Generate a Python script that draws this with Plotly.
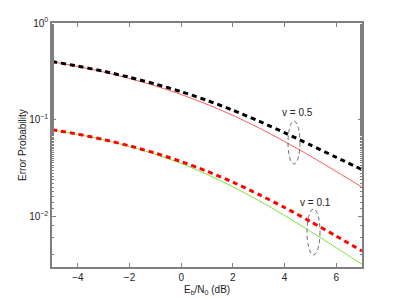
import plotly.graph_objects as go

ebn0 = [-5, -4, -3, -2, -1, 0, 1, 2, 3, 4, 5, 6, 7]
pe_v05_dashed = [0.399, 0.3584, 0.3168, 0.2746, 0.2335, 0.1949, 0.1584, 0.1254, 0.0970, 0.0734, 0.0549, 0.0409, 0.0305]
pe_v05_solid = [0.398, 0.3556, 0.3115, 0.2672, 0.2236, 0.1823, 0.1443, 0.1109, 0.0825, 0.0596, 0.0421, 0.0292, 0.0201]
pe_v01_dashed = [0.0789, 0.0708, 0.0623, 0.0536, 0.0451, 0.0369, 0.0293, 0.0226, 0.0169, 0.01237, 0.00887, 0.00627, 0.00439]
pe_v01_solid = [0.0785, 0.0705, 0.0619, 0.0529, 0.0439, 0.0352, 0.0272, 0.0203, 0.0146, 0.01024, 0.00702, 0.00475, 0.0032]

ytick_vals = [1e-2, 1e-1, 1]
ytick_text = ["10<sup>−2</sup>", "10<sup>−1</sup>", "10<sup>0</sup>"]
xtick_vals = [-4, -2, 0, 2, 4, 6]
xtick_text = ["−4", "−2", "0", "2", "4", "6"]

fig = go.Figure()
fig.add_trace(go.Scatter(x=ebn0, y=pe_v05_solid, mode="lines", line_shape="spline",
                         line=dict(color="#ff5a5a", width=1, smoothing=0.8)))
fig.add_trace(go.Scatter(x=ebn0, y=pe_v01_solid, mode="lines", line_shape="spline",
                         line=dict(color="#7ee33a", width=1, smoothing=0.8)))
fig.add_trace(go.Scatter(x=ebn0, y=pe_v05_dashed, mode="lines", line_shape="spline",
                         line=dict(color="black", width=3, dash="5px,4px", smoothing=0.8)))
fig.add_trace(go.Scatter(x=ebn0, y=pe_v01_dashed, mode="lines", line_shape="spline",
                         line=dict(color="#ff0000", width=3, dash="5px,4px", smoothing=0.8)))

axis_common = dict(showline=True, linecolor="#7f7f7f", linewidth=1.5, mirror="ticks",
                   ticks="inside", ticklen=4, tickcolor="#7f7f7f", showgrid=False,
                   zeroline=False, automargin=False,
                   tickfont=dict(family="Liberation Sans, Arial", size=10, color="#222"))

# page body has an 8px margin; plot area targets x 52..362, y 22..266 in the window
fig.update_layout(
    width=391, height=292,
    margin=dict(l=44, r=37, t=15, b=33),
    paper_bgcolor="white", plot_bgcolor="white",
    showlegend=False,
    font=dict(family="Liberation Sans, Arial", size=10, color="#222"),
    xaxis=dict(range=[-5, 7], tickvals=xtick_vals, ticktext=xtick_text, **axis_common),
    yaxis=dict(type="log", range=[-2.523, 0], tickvals=ytick_vals, ticktext=ytick_text,
               minor=dict(ticks="inside", ticklen=2, tickcolor="#7f7f7f", showgrid=False),
               **axis_common),
)

fig.add_annotation(xref="paper", yref="paper", x=0.5, y=-0.06, yanchor="top",
                   xanchor="center", text="E<sub>b</sub>/N<sub>0</sub> (dB)", showarrow=False,
                   font=dict(size=10, color="#222"))
fig.add_annotation(xref="paper", yref="paper", x=-0.097, y=0.5, textangle=-90,
                   xanchor="center", yanchor="middle", text="Error Probability", showarrow=False,
                   font=dict(size=10, color="#222"))

fig.add_annotation(xref="paper", yref="paper", x=(297 - 52) / 310, y=(266 - 112) / 244,
                   xanchor="center", yanchor="middle",
                   text="v = 0.5", showarrow=False, font=dict(size=10, color="#222"))
fig.add_annotation(xref="paper", yref="paper", x=(315 - 52) / 310, y=(266 - 202) / 244,
                   xanchor="center", yanchor="middle",
                   text="v = 0.1", showarrow=False, font=dict(size=10, color="#222"))
fig.add_shape(type="circle", xref="paper", yref="paper",
              x0=(288 - 52) / 310, x1=(300 - 52) / 310, y0=(266 - 163) / 244, y1=(266 - 120) / 244,
              line=dict(color="#444", width=0.8, dash="4px,3px"))
fig.add_shape(type="circle", xref="paper", yref="paper",
              x0=(307 - 52) / 310, x1=(320 - 52) / 310, y0=(266 - 254) / 244, y1=(266 - 208) / 244,
              line=dict(color="#444", width=0.8, dash="4px,3px"))

fig.write_html("out.html")
